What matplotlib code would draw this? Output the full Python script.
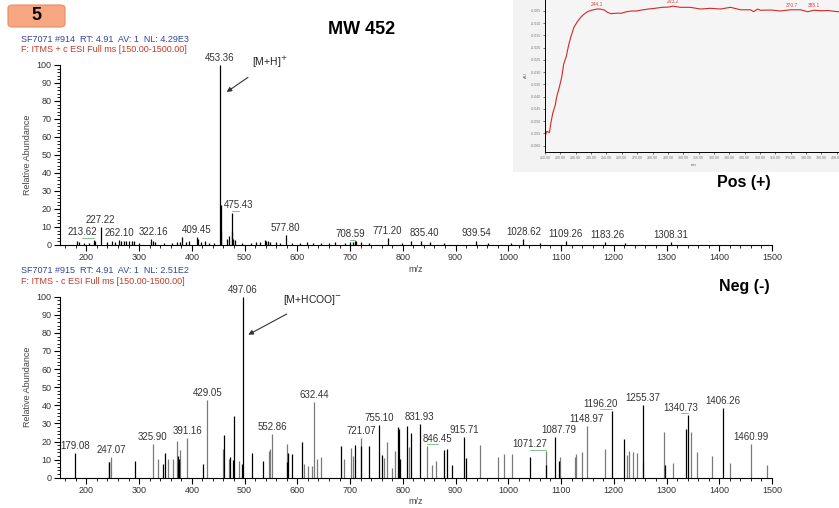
import numpy as np
import matplotlib
matplotlib.use("Agg")
import matplotlib.pyplot as plt
from matplotlib.patches import FancyBboxPatch, Rectangle
from matplotlib.ticker import MultipleLocator, FormatStrFormatter

plt.rcParams['font.family'] = ['Liberation Sans', 'DejaVu Sans']

# --- positive mode spectrum (m/z, relative abundance) ---
pos_mz = [182, 186, 195, 205, 213.62, 216.5, 227.22, 240, 248, 255, 262.10, 266, 272,
          276, 281, 286, 290, 300, 322.16, 326, 330, 348, 362, 372, 378, 382, 388, 395,
          409.45, 412, 417, 425, 433, 442, 453.36, 454.36, 455.36, 467, 470, 475.43,
          476.4, 478, 482, 495, 512, 522, 530, 538, 541, 545, 548, 560, 568, 577.80,
          590, 605, 618, 630, 645, 660, 672, 690, 700, 705, 708.59, 712, 720, 735,
          771.20, 798, 815, 835.40, 852, 878, 939.54, 962, 1005, 1028.62, 1060,
          1109.26, 1183.26, 1222, 1308.31]
pos_int = [2.0, 1.5, 1.0, 1.2, 3.0, 2.5, 10.0, 1.5, 2.0, 1.5, 2.8, 2.0, 2.5,
           2.0, 2.5, 2.0, 2.5, 1.0, 3.5, 2.0, 1.5, 1.0, 1.0, 1.5, 1.5, 4.5, 1.5, 2.0,
           4.5, 3.5, 1.5, 2.5, 1.0, 1.0, 100, 22.5, 8.0, 3.5, 5.0, 18.0,
           8.0, 3.5, 3.0, 1.0, 1.0, 1.5, 1.5, 3.0, 2.0, 2.5, 1.5, 1.5, 1.0, 5.5,
           1.0, 1.0, 1.5, 1.0, 1.0, 1.0, 1.5, 1.0, 1.5, 1.5, 2.0, 2.5, 1.5, 1.0,
           4.0, 1.0, 2.0, 2.5, 1.5, 1.0, 2.5, 1.0, 1.0, 3.5, 1.0,
           2.0, 1.5, 1.0, 1.8]
pos_labels = [213.62, 227.22, 262.10, 322.16, 409.45, 453.36, 475.43, 577.80, 708.59,
              771.20, 835.40, 939.54, 1028.62, 1109.26, 1183.26, 1308.31]

# --- negative mode spectrum ---
neg_mz_dark = [179.08, 242.0, 243.0, 292.0, 346.0, 349.0, 373.0, 375.0, 422.0, 461.0,
               473.0, 478.0, 480.0, 495.6, 497.06, 514.6, 535.0, 580.8, 581.5, 590.0,
               609.5, 683.5, 710.0, 720.0, 735.0, 755.10, 761.0, 791.8, 793.7, 795.6,
               808.0, 814.6, 831.93, 877.8, 884.0, 894.0, 915.71, 919.0, 1041.0, 1072.0,
               1087.79, 1097.0, 1196.20, 1220.0, 1255.37, 1298.0, 1336.0, 1340.73, 1406.26]
neg_int_dark = [13.5, 8.5, 8.5, 9.5, 7.5, 13.5, 12, 10.5, 7.5, 23.5,
                11.5, 10, 34, 7.5, 100, 13.5, 9, 8.5, 13.5, 13,
                19.5, 17.5, 18, 17.5, 17.5, 29, 12.5, 28, 27, 10.5,
                28.5, 24.5, 29.5, 15.5, 16, 7, 22.5, 11, 11.5, 7,
                22.5, 9.5, 37, 21.5, 40, 7, 27, 34.5, 38.5]
neg_mz_grey = [247.07, 325.90, 335.0, 354.0, 365.0, 371.0, 378.0, 391.16, 429.05, 459.5,
               469.6, 490.0, 547.0, 549.0, 552.86, 580.0, 613.0, 621.0, 628.0, 632.44,
               636.7, 645.5, 689.0, 702.5, 706.0, 721.07, 764.6, 769.6, 779.0, 784.8,
               810.8, 846.45, 855.4, 862.0, 946.8, 979.7, 992.0, 1007.0, 1071.27, 1098.5,
               1126.0, 1129.0, 1139.0, 1148.97, 1183.5, 1224.7, 1229.0, 1237.0, 1243.7,
               1255.9, 1295.6, 1313.0, 1347.0, 1357.0, 1386.7, 1420.0, 1460.99, 1491.0]
neg_int_grey = [11.5, 18.5, 10.5, 10.5, 10.5, 20.5, 15.5, 22, 43, 16,
                10.5, 9.5, 15, 16, 24, 18.5, 7.5, 6.5, 6.5, 42,
                10.5, 11.5, 10.5, 16.5, 12, 22, 11, 20, 5.5, 15,
                17, 17.5, 7, 9.5, 18, 11.5, 13, 13, 14.5, 11.5,
                11.5, 13, 14, 28.5, 16, 12.5, 14.5, 14, 13.5,
                8.5, 25, 8, 25, 14, 12, 8, 18.5, 7]
neg_labels = [179.08, 247.07, 325.90, 391.16, 429.05, 497.06, 552.86, 632.44, 721.07,
              755.10, 831.93, 846.45, 915.71, 1071.27, 1087.79, 1148.97, 1196.20,
              1255.37, 1340.73, 1406.26, 1460.99]

# --- UV trace in the inset (nm, AU) ---
uv_nm = [210.0, 211.1, 212.9, 213.8, 215.1, 216.6, 217.7, 219.5, 221.0, 222.1, 223.9,
         225.5, 227.0, 228.8, 231.0, 233.2, 235.4, 237.6, 240.9, 243.8, 246.0, 248.6,
         250.8, 253.0, 256.4, 259.7, 263.0, 266.3, 269.6, 272.9, 277.3, 281.7, 286.2,
         290.6, 293.2, 298.1, 304.6, 311.2, 317.7, 324.2, 330.8, 337.3, 343.8, 345.8,
         348.4, 350.3, 356.9, 363.4, 369.9, 376.4, 381.0, 385.1, 390.0, 394.1, 400.6, 403.0]
uv_au = [-0.0563, -0.0542, -0.0547, -0.0508, -0.0467, -0.0437, -0.0399, -0.0358, -0.0317,
         -0.0269, -0.0235, -0.0187, -0.0153, -0.0118, -0.0095, -0.0077, -0.0064, -0.0054,
         -0.0047, -0.0043, -0.0043, -0.0047, -0.0057, -0.0062, -0.0060, -0.0060, -0.0054,
         -0.0051, -0.0051, -0.0047, -0.0043, -0.0040, -0.0036, -0.0035, -0.0031, -0.0036,
         -0.0036, -0.0043, -0.0040, -0.0043, -0.0036, -0.0046, -0.0046, -0.0054, -0.0043,
         -0.0048, -0.0047, -0.0051, -0.0046, -0.0046, -0.0054, -0.0048, -0.0050, -0.0049,
         -0.0054, -0.0053]
uv_peaks = [244.1, 293.2, 370.7, 385.1]

W, H = 839, 508
fig = plt.figure(figsize=(W / 100, H / 100), dpi=100)


def fx(px):
    return px / W


def fy(py):
    return 1 - py / H


def style_spectrum(ax):
    ax.set_xlim(150, 1500)
    ax.set_ylim(0, 100)
    for s in ('top', 'right'):
        ax.spines[s].set_visible(False)
    ax.spines['left'].set_linewidth(0.8)
    ax.spines['bottom'].set_linewidth(0.8)
    ax.xaxis.set_minor_locator(MultipleLocator(20))
    ax.yaxis.set_major_locator(MultipleLocator(10))
    ax.yaxis.set_minor_locator(MultipleLocator(2))
    ax.set_xticks(np.arange(200, 1501, 100))
    ax.tick_params(which='major', length=4, width=0.8, labelsize=6.5,
                   labelcolor='#333333', pad=2)
    ax.tick_params(which='minor', length=2, width=0.6)
    ax.set_ylabel('Relative Abundance', fontsize=6.5, color='#444444')
    ax.yaxis.set_label_coords(-0.04, 0.5)
    ax.set_xlabel('m/z', fontsize=6.5, color='#444444')
    ax.xaxis.set_label_coords(0.5, -0.11)
    ax.patch.set_alpha(0)


# ---------------- positive spectrum ----------------
ax1 = fig.add_axes([fx(60), fy(245), fx(772 - 60), (245 - 65) / H])
style_spectrum(ax1)
ax1.vlines(pos_mz, 0, pos_int, color='black', lw=0.9)
shift_pos = {213.62: -22, 322.16: 5, 475.43: 14, 708.59: -8, 835.40: 5, 1183.26: 5}
lookup = dict(zip(pos_mz, pos_int))
for mz in pos_labels:
    h = lookup[mz]
    tx = mz + shift_pos.get(mz, 0)
    ax1.text(tx, h + 1.2, f'{mz:.2f}', fontsize=7, color='#333333',
             ha='center', va='bottom', clip_on=False)
    if mz in (213.62, 475.43, 708.59):
        ax1.plot([mz, tx], [h + 1.0, h + 1.0], color='#55a868', lw=0.5)
ax1.annotate('[M+H]$^{+}$', xy=(466, 85), xytext=(548, 101.5), fontsize=7.5,
             ha='center', va='center', color='#222222',
             arrowprops=dict(arrowstyle='-|>', color='#333333', lw=0.8,
                             mutation_scale=7, shrinkA=6, shrinkB=0))

# ---------------- negative spectrum ----------------
ax2 = fig.add_axes([fx(60), fy(477.7), fx(772 - 60), (477.7 - 296.7) / H])
style_spectrum(ax2)
ax2.xaxis.set_label_coords(0.5, -0.107)
ax2.vlines(neg_mz_grey, 0, neg_int_grey, color='#7a7a7a', lw=0.9)
ax2.vlines(neg_mz_dark, 0, neg_int_dark, color='black', lw=0.9)
lookup2 = dict(zip(neg_mz_dark, neg_int_dark))
lookup2.update(zip(neg_mz_grey, neg_int_grey))
shift_neg = {846.45: 20, 1071.27: -30, 1087.79: 8, 1196.20: -22, 1340.73: -13}
for mz in neg_labels:
    h = lookup2[mz]
    tx = mz + shift_neg.get(mz, 0)
    ax2.text(tx, h + 1.2, f'{mz:.2f}', fontsize=7, color='#333333',
             ha='center', va='bottom', clip_on=False)
    if mz in (846.45, 1071.27, 1196.20, 1340.73):
        ax2.plot([mz, tx], [h + 1.0, h + 1.0], color='#55a868', lw=0.5)
ax2.annotate('[M+HCOO]$^{-}$', xy=(507, 79), xytext=(628, 98), fontsize=7.5,
             ha='center', va='center', color='#222222',
             arrowprops=dict(arrowstyle='-|>', color='#333333', lw=0.8,
                             mutation_scale=7, shrinkA=6, shrinkB=0))

# ---------------- header texts ----------------
fig.patches.append(FancyBboxPatch((fx(8), fy(27)), fx(57), 22 / H,
                                  boxstyle='round,pad=0,rounding_size=0.006',
                                  transform=fig.transFigure, facecolor='#f7a781',
                                  edgecolor='#e38f66', lw=0.8))
fig.text(fx(36), fy(16), '5', fontsize=13, fontweight='bold', ha='center', va='center')
fig.text(fx(362), fy(30), 'MW 452', fontsize=13, fontweight='bold', ha='center', va='center')
fig.text(fx(21), fy(40), 'SF7071 #914  RT: 4.91  AV: 1  NL: 4.29E3',
         fontsize=6.5, color='#34449a', va='center')
fig.text(fx(21), fy(49), 'F: ITMS + c ESI Full ms [150.00-1500.00]',
         fontsize=6.5, color='#c0392b', va='center')
fig.text(fx(21), fy(270.5), 'SF7071 #915  RT: 4.91  AV: 1  NL: 2.51E2',
         fontsize=6.5, color='#34449a', va='center')
fig.text(fx(21), fy(281), 'F: ITMS - c ESI Full ms [150.00-1500.00]',
         fontsize=6.5, color='#c0392b', va='center')
fig.text(fx(744), fy(183), 'Pos (+)', fontsize=11.5, fontweight='bold', ha='center', va='center')
fig.text(fx(744), fy(287), 'Neg (-)', fontsize=11.5, fontweight='bold', ha='center', va='center')

# ---------------- UV inset ----------------
bg = Rectangle((fx(513), fy(172)), fx(W - 513), 172 / H,
               transform=fig.transFigure, facecolor='#f3f3f3',
               edgecolor='none', zorder=-5)
fig.patches.append(bg)
ax3 = fig.add_axes([fx(545), fy(151.7), fx(298), 151.7 / H + 0.002])
ax3.set_zorder(2)
ax3.set_facecolor('#f5f5f5')
ax3.plot(uv_nm, uv_au, color='#d62728', lw=0.8)
ax3.set_xlim(210, 404)
ax3.set_ylim(-0.0625, -0.0002)
ax3.set_xticks(np.arange(210, 401, 10))
ax3.xaxis.set_major_formatter(FormatStrFormatter('%.2f'))
ax3.set_yticks(np.arange(-0.060, -0.0049, 0.005))
ax3.yaxis.set_major_formatter(FormatStrFormatter('%.3f'))
ax3.tick_params(labelsize=2.6, labelcolor='#777777', length=1.5, width=0.4, pad=1.5)
for s in ax3.spines.values():
    s.set_linewidth(0.7)
ax3.spines['right'].set_visible(False)
ax3.set_xlabel('nm', fontsize=3, color='#555555', labelpad=2)
ax3.set_ylabel('AU', fontsize=3, color='#555555', labelpad=2)
for p in uv_peaks:
    yv = np.interp(p, uv_nm, uv_au)
    ax3.text(p, yv + 0.0008, f'{p:.1f}', fontsize=3.5, color='#e04040',
             ha='center', va='bottom')

fig.savefig('out.png', dpi=100)
